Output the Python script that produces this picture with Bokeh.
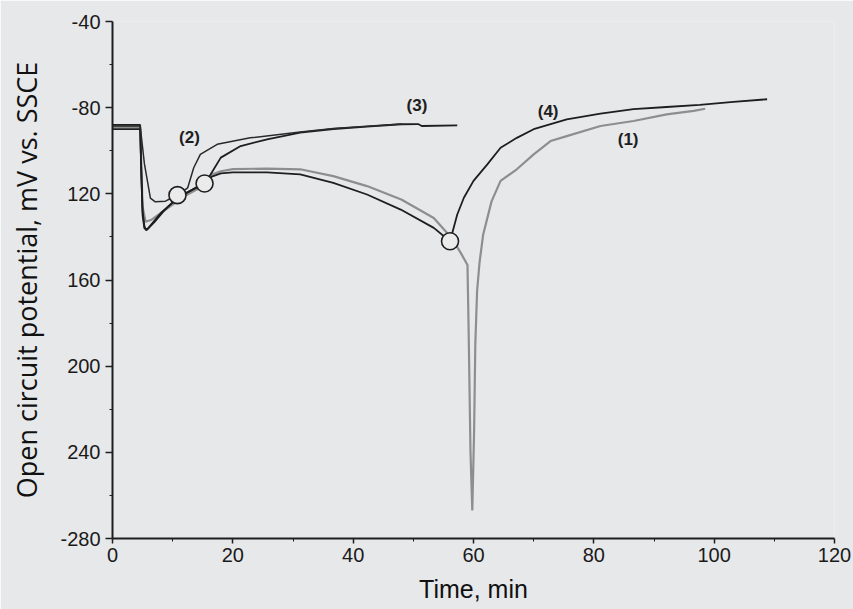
from bokeh.plotting import figure
from bokeh.models import Range1d, FixedTicker, ColumnDataSource
from bokeh.core.properties import value
from bokeh.embed import file_html
from bokeh.resources import INLINE

# ---- data ----
t1 = [0, 4.6, 4.8, 5.0, 5.5, 6.5, 8, 10, 12, 14, 15.3, 16.5, 18, 20, 25.7, 31.2, 36.7, 42.3, 48,
      53.4, 56.5, 58.0, 59.0, 59.2, 59.5, 59.8, 60.1, 60.3, 60.6, 61.0, 61.6, 63.0, 64.5, 67.2,
      70.0, 72.8, 75.5, 81.1, 86.6, 92.1, 96.6, 98.5]
v1 = [-89, -89, -108, -126, -133, -132, -129, -125, -121, -118, -115.5, -111, -109.5, -108.5,
      -108.3, -108.6, -111.8, -116.4, -122.6, -131.2, -141, -148, -153, -185, -240, -267, -230,
      -190, -165, -152, -139, -123.5, -114, -108.6, -101.7, -95.5, -93.2, -88.5, -86.2, -83.1,
      -81.5, -80.5]

t2 = [0, 4.6, 4.9, 5.3, 5.8, 6.3, 7.1, 8.8, 9.9, 10.8, 12.5, 13.5, 14.6, 17.4, 22.9, 31.2,
      36.7, 42.3, 48]
v2 = [-88.5, -88.5, -96, -106, -114, -122, -123.7, -123.4, -121.8, -120.6, -117.2, -107.9,
      -101.7, -97, -94, -91.3, -89.7, -88.6, -87.6]

t3 = [0, 4.6, 4.8, 5.0, 5.3, 5.8, 7, 8.5, 10, 12, 14, 15.3, 16.3, 18, 21.3, 25.7, 31.2, 36.7,
      42.3, 48, 50.8, 51.4, 57.3]
v3 = [-88, -88, -112, -130, -136, -136.5, -133, -128, -124, -120, -117, -115, -111, -103.2,
      -97.8, -94.7, -91.6, -89.9, -88.8, -87.7, -87.6, -88.5, -88.2]

t4 = [0, 4.6, 4.8, 5.0, 5.3, 5.6, 6.5, 8, 10, 12, 14, 15.3, 16.5, 18, 20, 25.7, 31.2, 36.7,
      42.3, 47.9, 53.4, 56.1, 57.3, 58.4, 60.0, 62.3, 64.5, 67.2, 70.0, 75.5, 81.1, 86.6, 92.1,
      97.6, 103.2, 108.8]
v4 = [-90, -90, -110, -128, -135, -137, -134, -129, -124, -120, -117, -115, -112, -110.5, -110,
      -110, -111, -114.9, -120.3, -127.3, -135.8, -142, -129.6, -121.8, -114, -106.3, -98.6, -94,
      -90, -85.4, -82.8, -80.7, -79.7, -78.7, -77.3, -76.1]

circle_t = [10.8, 15.3, 56.1]
circle_v = [-120.6, -115.2, -142.0]

label_text = ["(1)", "(2)", "(3)", "(4)"]
label_t = [85.7, 12.8, 50.6, 72.4]
label_v = [-94.7, -93.9, -79.2, -81.8]

x_ticks = [0, 20, 40, 60, 80, 100, 120]
x_minor = [10, 30, 50, 70, 90, 110]
y_ticks = [-280, -240, -200, -160, -120, -80, -40]
y_tick_labels = ["-280", "240", "200", "160", "120", "-80", "-40"]
y_minor = [-260, -220, -180, -140, -100, -60]

# ---- styling ----
bg = "#e7e8ea"
ink = "#1e1e1e"

p = figure(width=853, height=609, x_range=Range1d(0, 120), y_range=Range1d(-280, -40),
           output_backend="svg", toolbar_location=None,
           min_border_left=112, min_border_right=19, min_border_top=21, min_border_bottom=71,
           background_fill_color=bg, border_fill_color=bg)
p.outline_line_color = None
p.grid.visible = False

p.line(t1, v1, line_color="#8e8e8e", line_width=2.2)
p.line(t4, v4, line_color=ink, line_width=1.8)
p.line(t3, v3, line_color=ink, line_width=1.8)
p.line(t2, v2, line_color="#2a2a2a", line_width=1.5)

p.scatter(circle_t, circle_v, size=17, marker="circle", fill_color="#ebebeb",
          line_color=ink, line_width=1.6)

src = ColumnDataSource(dict(x=label_t, y=label_v, text=label_text))
p.text(x="x", y="y", text="text", source=src, text_align="center", text_baseline="middle",
       text_font=value("Liberation Sans"), text_font_style="bold", text_font_size="17px",
       text_color=ink)

for ax in (p.xaxis[0], p.yaxis[0]):
    ax.axis_line_color = ink
    ax.axis_line_width = 2
    ax.major_tick_line_color = ink
    ax.minor_tick_line_color = ink
    ax.major_tick_line_width = 1.5
    ax.major_tick_in = 0
    ax.minor_tick_in = 0
    ax.major_tick_out = 7
    ax.minor_tick_out = 3
    ax.major_label_text_font = "Liberation Sans"
    ax.major_label_text_font_size = "20px"
    ax.major_label_text_color = "#1a1a1a"

p.xaxis.ticker = FixedTicker(ticks=x_ticks, minor_ticks=x_minor)
p.yaxis.ticker = FixedTicker(ticks=y_ticks, minor_ticks=y_minor)
p.yaxis.major_label_overrides = {t: s for t, s in zip(y_ticks, y_tick_labels)}
p.xaxis.major_tick_out = 5
p.xaxis.major_label_standoff = 4
p.yaxis.major_label_standoff = 5

p.xaxis.axis_label = "Time, min"
p.xaxis.axis_label_text_font = "Liberation Sans"
p.xaxis.axis_label_text_font_size = "25px"
p.xaxis.axis_label_text_font_style = "normal"
p.xaxis.axis_label_text_color = "#111111"
p.xaxis.axis_label_standoff = 10

p.yaxis.axis_label = "Open circuit potential, mV vs. SSCE"
p.yaxis.axis_label_text_font = "Open Sans"
p.yaxis.axis_label_text_font_size = "27px"
p.yaxis.axis_label_text_font_style = "normal"
p.yaxis.axis_label_text_color = "#111111"
p.yaxis.axis_label_standoff = 12

open("out.html", "w").write(file_html(p, INLINE))
